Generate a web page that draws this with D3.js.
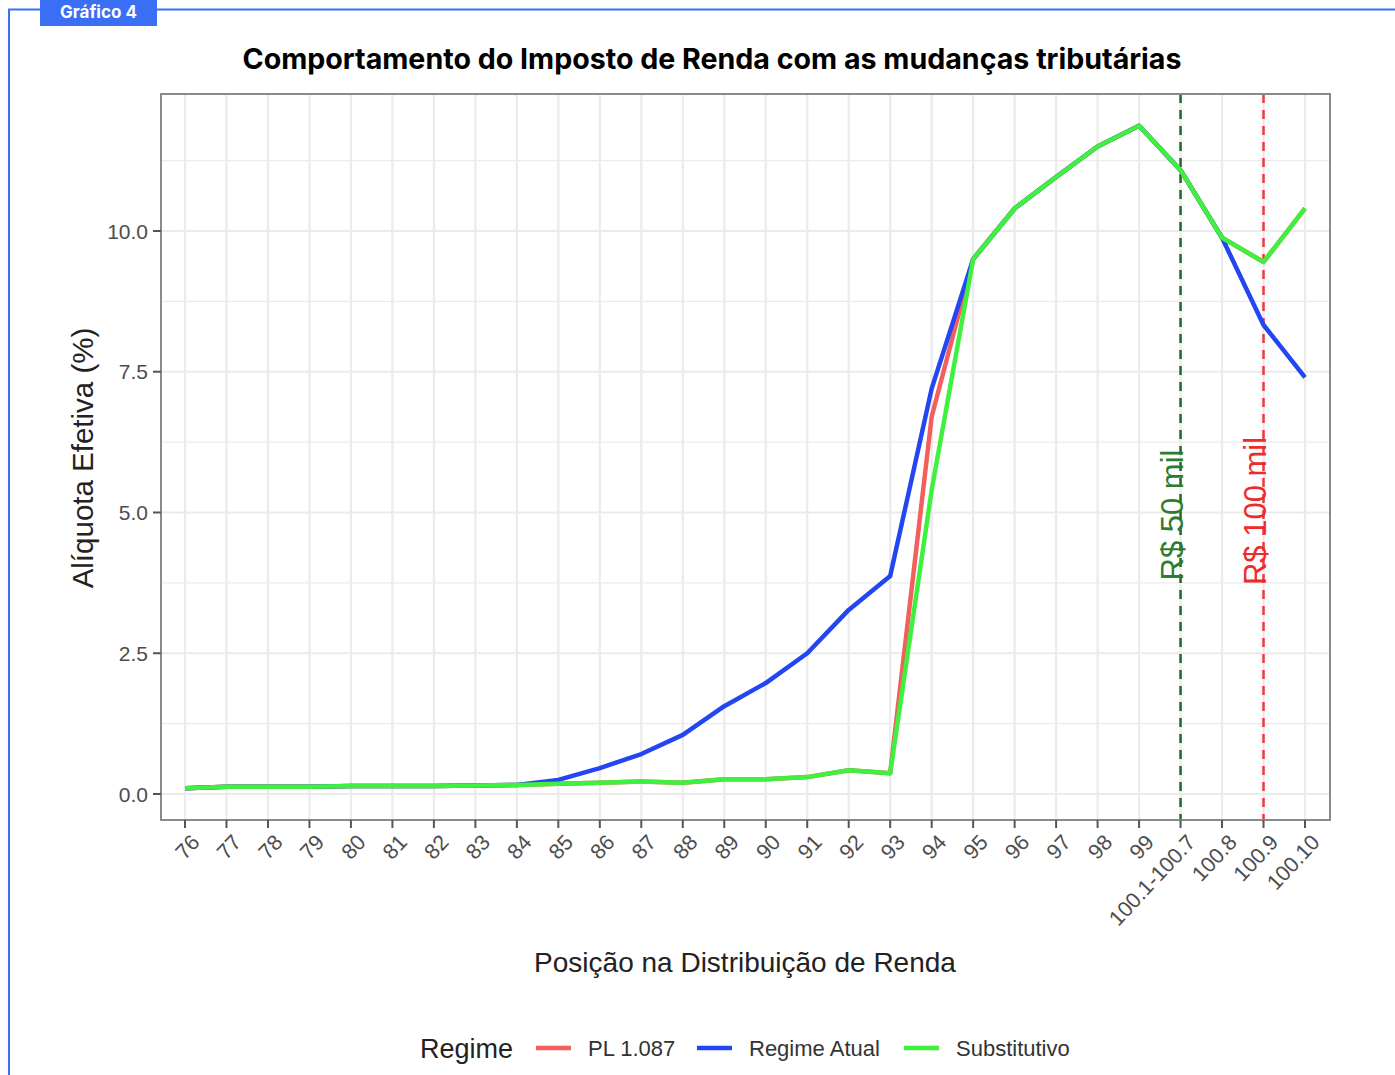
<!DOCTYPE html>
<html>
<head>
<meta charset="utf-8">
<title>Gráfico 4</title>
<script src="https://cdn.jsdelivr.net/npm/d3@7"></script>
<style>
body { margin: 0; background: #fff; }
.grid line { stroke: #ebebeb; }
.tick-lbl { font-family: "Liberation Sans", Arial, sans-serif; fill: #4d4d4d; }
</style>
</head>
<body>
<script>
// categorias (posição na distribuição de renda)
var categorias = ["76","77","78","79","80","81","82","83","84","85","86","87","88","89",
  "90","91","92","93","94","95","96","97","98","99","100.1-100.7","100.8","100.9","100.10"];

var plValues = [0.10,0.13,0.13,0.13,0.14,0.14,0.14,0.15,0.16,0.18,0.20,0.22,0.20,0.26,
  0.26,0.30,0.42,0.37,6.7,9.5,10.4,10.96,11.5,11.87,11.08,9.88,9.45,10.4];
var atualValues = [0.10,0.13,0.13,0.13,0.14,0.14,0.14,0.15,0.16,0.25,0.46,0.71,1.05,1.56,
  1.97,2.50,3.27,3.87,7.2,9.5,10.4,10.96,11.5,11.87,11.08,9.88,8.33,7.4];
var substValues = [0.10,0.13,0.13,0.13,0.14,0.14,0.14,0.15,0.16,0.18,0.20,0.22,0.20,0.26,
  0.26,0.30,0.42,0.37,5.4,9.5,10.4,10.96,11.5,11.87,11.08,9.88,9.45,10.4];

var yTicks = [0, 2.5, 5, 7.5, 10];
var yMinor = [1.25, 3.75, 6.25, 8.75, 11.25];

var series = [
  {name: "PL 1.087", color: "#f25f5c", values: plValues},
  {name: "Regime Atual", color: "#2445f2", values: atualValues},
  {name: "Substitutivo", color: "#3ff03f", values: substValues}
];

var refLines = [
  {cat: "100.1-100.7", label: "R$ 50 mil", color: "#1f6b1f", text: "#2e7d2e", cy: 421},
  {cat: "100.9", label: "R$ 100 mil", color: "#ef3a3a", text: "#ee2b2b", cy: 417}
];

var W = 1395, H = 1075;
var svg = d3.select("body").append("svg").attr("width", W).attr("height", H);

// moldura azul
var blue = "#3a6ff5";
svg.append("line").attr("x1", 8).attr("x2", W).attr("y1", 9.5).attr("y2", 9.5)
  .attr("stroke", blue).attr("stroke-width", 2);
svg.append("line").attr("x1", 9).attr("x2", 9).attr("y1", 9).attr("y2", H)
  .attr("stroke", blue).attr("stroke-width", 2);
svg.append("rect").attr("x", 40).attr("y", 0).attr("width", 117).attr("height", 26).attr("fill", blue);
svg.append("text").attr("x", 98.5).attr("y", 18).attr("text-anchor", "middle")
  .attr("font-family", "Inter, sans-serif").attr("font-weight", 700).attr("font-size", 17)
  .attr("fill", "#fff").text("Gráfico 4");

svg.append("text").attr("x", 712).attr("y", 69).attr("text-anchor", "middle")
  .attr("font-family", "Inter, sans-serif").attr("font-weight", 700).attr("font-size", 28.6)
  .attr("fill", "#000").text("Comportamento do Imposto de Renda com as mudanças tributárias");

var px = 161, py = 94, pw = 1169, ph = 726;
var g = svg.append("g").attr("transform", "translate(" + px + "," + py + ")");

var x = d3.scalePoint().domain(categorias).range([24, 1144]);
var y = d3.scaleLinear().domain([-0.462, 12.433]).range([ph, 0]);

// grade
var grid = g.append("g").attr("class", "grid");
grid.selectAll(".ymin").data(yMinor).enter().append("line")
  .attr("x1", 0).attr("x2", pw).attr("y1", d => y(d)).attr("y2", d => y(d))
  .attr("stroke-width", 1.2).attr("stroke", "#f2f2f2");
grid.selectAll(".ymaj").data(yTicks).enter().append("line")
  .attr("x1", 0).attr("x2", pw).attr("y1", d => y(d)).attr("y2", d => y(d))
  .attr("stroke-width", 2.2);
grid.selectAll(".xmaj").data(categorias).enter().append("line")
  .attr("y1", 0).attr("y2", ph).attr("x1", d => x(d)).attr("x2", d => x(d))
  .attr("stroke-width", 2.2);

// linhas de referência
refLines.forEach(function (r) {
  g.append("line").attr("x1", x(r.cat)).attr("x2", x(r.cat)).attr("y1", 0).attr("y2", ph)
    .attr("stroke", r.color).attr("stroke-width", 2.5).attr("stroke-dasharray", "9,7");
});

var line = d3.line().x((d, i) => x(categorias[i])).y(d => y(d));
g.selectAll(".serie").data(series).enter().append("path")
  .attr("d", d => line(d.values)).attr("fill", "none")
  .attr("stroke", d => d.color).attr("stroke-width", 4.5).attr("stroke-linejoin", "round");

refLines.forEach(function (r) {
  var cx = x(r.cat) + 2;
  g.append("text").attr("transform", "translate(" + cx + "," + r.cy + ") rotate(-90)")
    .attr("text-anchor", "middle").attr("font-family", "Liberation Sans, Arial, sans-serif")
    .attr("font-size", 31).attr("fill", r.text).text(r.label);
});

// borda do painel
g.append("rect").attr("x", 0).attr("y", 0).attr("width", pw).attr("height", ph)
  .attr("fill", "none").attr("stroke", "#8a8a8a").attr("stroke-width", 2);

// eixo y
var yAxis = g.append("g");
yAxis.selectAll("line").data(yTicks).enter().append("line")
  .attr("x1", -8).attr("x2", 0).attr("y1", d => y(d)).attr("y2", d => y(d))
  .attr("stroke", "#555").attr("stroke-width", 2);
yAxis.selectAll("text").data(yTicks).enter().append("text")
  .attr("class", "tick-lbl").attr("x", -13).attr("y", d => y(d)).attr("dy", "0.36em")
  .attr("text-anchor", "end").attr("font-size", 21).text(d => d3.format(".1f")(d));

// eixo x
var xAxis = g.append("g");
xAxis.selectAll("line").data(categorias).enter().append("line")
  .attr("x1", d => x(d)).attr("x2", d => x(d)).attr("y1", ph).attr("y2", ph + 8)
  .attr("stroke", "#555").attr("stroke-width", 2);
xAxis.selectAll("text").data(categorias).enter().append("text")
  .attr("class", "tick-lbl").attr("font-size", 21.5).attr("text-anchor", "end")
  .attr("transform", d => "translate(" + (x(d) + 5) + "," + (ph + 13) + ") rotate(-47)")
  .attr("dy", "0.7em").text(d => d);

svg.append("text").attr("x", 745).attr("y", 972).attr("text-anchor", "middle")
  .attr("font-family", "Liberation Sans, Arial, sans-serif").attr("font-size", 28)
  .attr("fill", "#222").text("Posição na Distribuição de Renda");
svg.append("text").attr("transform", "translate(93,458) rotate(-90)").attr("text-anchor", "middle")
  .attr("font-family", "Liberation Sans, Arial, sans-serif").attr("font-size", 29.5)
  .attr("fill", "#222").text("Alíquota Efetiva (%)");

// legenda
var leg = svg.append("g").attr("transform", "translate(0,1048)");
leg.append("text").attr("x", 420).attr("y", 10).attr("font-family", "Liberation Sans, Arial, sans-serif")
  .attr("font-size", 27).attr("fill", "#222").text("Regime");
var legX = [536, 697, 904];
series.forEach(function (s, i) {
  leg.append("line").attr("x1", legX[i]).attr("x2", legX[i] + 35).attr("y1", 0).attr("y2", 0)
    .attr("stroke", s.color).attr("stroke-width", 4.5);
  leg.append("text").attr("x", legX[i] + 52).attr("y", 8).attr("font-family", "Liberation Sans, Arial, sans-serif")
    .attr("font-size", 22).attr("fill", "#333").text(s.name);
});
</script>
</body>
</html>
